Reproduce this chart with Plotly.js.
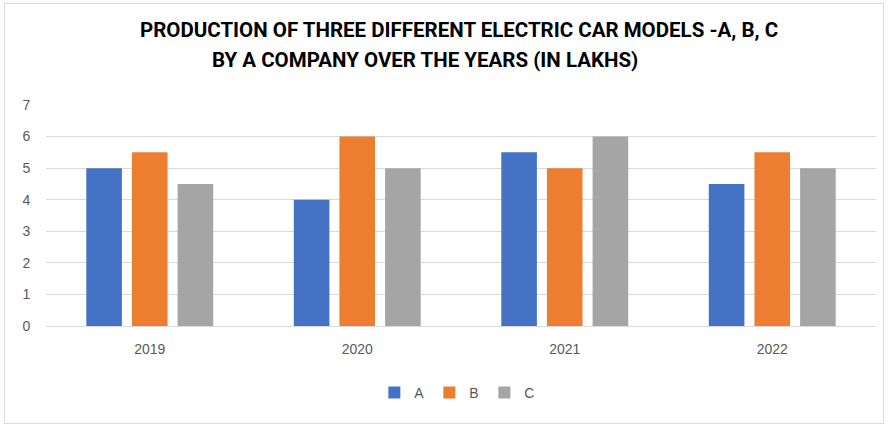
<!DOCTYPE html>
<html><head><meta charset="utf-8">
<script src="https://cdn.plot.ly/plotly-3.0.1.min.js"></script>
<style>
html,body{margin:0;padding:0;background:#fff;}
#frame{position:absolute;left:4px;top:3px;width:880px;height:421px;border:1px solid #d9d9d9;box-sizing:border-box;}
#chart{position:absolute;left:0;top:0;width:891px;height:428px;}
</style></head>
<body>
<div id="frame"></div>
<div id="chart"></div>
<script>
const years = ['2019','2020','2021','2022'];
const seriesA = [5, 4, 5.5, 4.5];
const seriesB = [5.5, 6, 5, 5.5];
const seriesC = [4.5, 5, 6, 5];
const seriesNames = ['A','B','C'];
const titleLine1 = 'PRODUCTION OF THREE DIFFERENT ELECTRIC CAR MODELS -A, B, C';
const titleLine2 = 'BY A COMPANY OVER THE YEARS (IN LAKHS)';

const colors = ['#4472C4','#ED7D31','#A5A5A5'];
const data = [seriesA, seriesB, seriesC].map((v,i)=>({
  type:'bar', x:years, y:v, name:seriesNames[i],
  marker:{color:colors[i]}, hoverinfo:'x+y+name'
}));
const tf = {family:'Roboto,"Liberation Sans",sans-serif', size:20.5, color:'#000'};
const layout = {
  width:891, height:428,
  paper_bgcolor:'rgba(0,0,0,0)', plot_bgcolor:'rgba(0,0,0,0)',
  margin:{l:46, r:15, t:105, b:102},
  title:{text:'<b>'+titleLine1+'</b>', font:tf, x:459/891, xanchor:'center', y:1-30/428, yanchor:'middle'},
  annotations:[{text:'<b>'+titleLine2+'</b>', font:tf, xref:'paper', yref:'paper',
    x:(425-46)/830, y:1+(105-60)/221, xanchor:'center', yanchor:'middle', showarrow:false}],
  barmode:'group', bargap:0.34, bargroupgap:0.22,
  font:{family:'"Liberation Sans",Arial,sans-serif', size:13, color:'#595959'},
  xaxis:{type:'category', showgrid:false, showline:true, linecolor:'#d9d9d9', linewidth:1,
    ticks:'outside', ticklen:10, tickcolor:'rgba(0,0,0,0)', tickfont:{size:14,color:'#595959'}},
  yaxis:{range:[0,7], dtick:1, showgrid:true, gridcolor:'#d9d9d9', gridwidth:1, zeroline:false,
    showline:false, ticks:'outside', ticklen:12, tickcolor:'rgba(0,0,0,0)', tickfont:{size:14,color:'#595959'}},
  showlegend:true,
  legend:{orientation:'h', x:0.495, xanchor:'center', y:(326-393)/221, yanchor:'middle',
    font:{size:14,color:'#595959'}, itemwidth:30, entrywidth:10, traceorder:'normal'}
};
Plotly.newPlot('chart', data, layout, {displayModeBar:false, staticPlot:true});
</script>
</body></html>
